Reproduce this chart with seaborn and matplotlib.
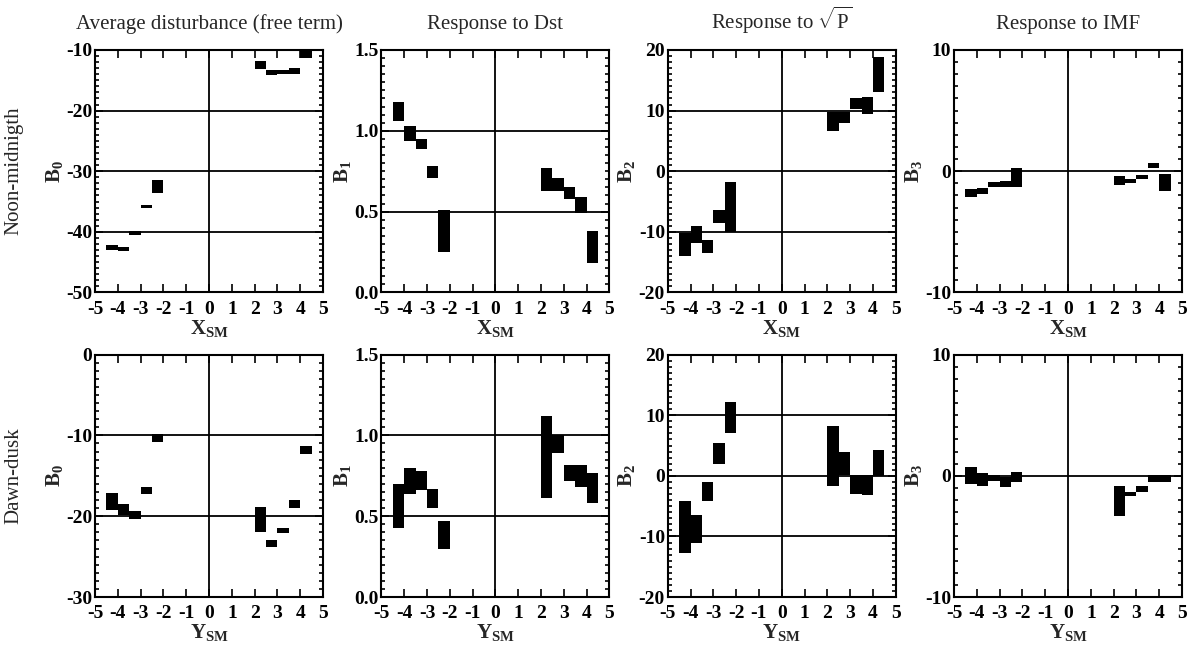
import numpy as np
import pandas as pd
import matplotlib
matplotlib.use("Agg")
import matplotlib.pyplot as plt
from matplotlib.ticker import MultipleLocator
import seaborn as sns

# bin centres along X_SM / Y_SM (each bin is 0.5 wide)
X_BINS = [-4.25, -3.75, -3.25, -2.75, -2.25, 2.25, 2.75, 3.25, 3.75, 4.25]
X_TICKS = [-5, -4, -3, -2, -1, 0, 1, 2, 3, 4, 5]

# noon-midnight row (lower / upper edge of each box)
B0_NM_LO = [-43.0, -43.2, -40.5, -36.1, -33.6, -13.2, -14.1, -14.0, -13.9, -11.4]
B0_NM_HI = [-42.2, -42.5, -39.8, -35.5, -31.4, -11.9, -13.3, -13.3, -12.9, -10.0]
B1_NM_LO = [1.06, 0.94, 0.89, 0.71, 0.25, 0.63, 0.63, 0.58, 0.49, 0.18]
B1_NM_HI = [1.18, 1.03, 0.95, 0.78, 0.51, 0.77, 0.71, 0.65, 0.59, 0.38]
B2_NM_LO = [-14.0, -11.9, -13.5, -8.6, -10.1, 6.6, 8.0, 10.3, 9.5, 13.1]
B2_NM_HI = [-10.2, -9.1, -11.3, -6.4, -1.7, 9.7, 9.7, 12.0, 12.3, 18.9]
B3_NM_LO = [-2.1, -1.9, -1.3, -1.3, -1.3, -1.1, -1.0, -0.6, 0.3, -1.6]
B3_NM_HI = [-1.5, -1.4, -0.9, -0.8, 0.3, -0.4, -0.6, -0.3, 0.7, -0.2]

# dawn-dusk row
B0_DD_LO = [-19.2, -19.8, -20.3, -17.2, -10.8, -21.9, -23.8, -22.1, -19.0, -12.3]
B0_DD_HI = [-17.1, -18.5, -19.4, -16.4, -9.8, -18.9, -22.9, -21.4, -18.0, -11.3]
B1_DD_LO = [0.43, 0.64, 0.66, 0.55, 0.30, 0.61, 0.89, 0.72, 0.68, 0.58]
B1_DD_HI = [0.70, 0.80, 0.78, 0.67, 0.47, 1.12, 1.00, 0.82, 0.82, 0.77]
B2_DD_LO = [-12.8, -11.1, -4.2, 1.9, 7.1, -1.6, 0.2, -3.0, -3.2, 0.0]
B2_DD_HI = [-4.2, -6.4, -1.1, 5.4, 12.2, 8.3, 4.0, 0.2, 0.2, 4.3]
B3_DD_LO = [-0.7, -0.8, -0.4, -0.9, -0.5, -3.3, -1.7, -1.3, -0.5, -0.5]
B3_DD_HI = [0.7, 0.2, 0.1, -0.1, 0.3, -0.8, -1.3, -0.8, 0.1, 0.1]

# y ticks per panel
B0_NM_TICKS = [-50, -40, -30, -20, -10]
B0_DD_TICKS = [-30, -20, -10, 0]
B1_TICKS = [0.0, 0.5, 1.0, 1.5]
B2_TICKS = [-20, -10, 0, 10, 20]
B3_TICKS = [-10, 0, 10]

COL_TITLES = ["Average disturbance (free term)", "Response to Dst",
              r"Response to $\sqrt{\mathrm{P}}$", "Response to IMF"]
ROW_TITLES = ["Noon-midnigth", "Dawn-dusk"]

sns.set_theme(style="ticks")
plt.rcParams["font.family"] = ["Liberation Serif", "DejaVu Serif"]
plt.rcParams["mathtext.fontset"] = "custom"
plt.rcParams["mathtext.rm"] = "Liberation Serif"
plt.rcParams["mathtext.bf"] = "Liberation Serif:bold"
plt.rcParams["mathtext.it"] = "Liberation Serif:italic"

fig, axes = plt.subplots(2, 4, figsize=(11.94, 6.49), dpi=100)
fig.subplots_adjust(left=0.0796, right=0.99, bottom=0.080, top=0.923,
                    wspace=0.256, hspace=0.256)

panels = [
    (B0_NM_LO, B0_NM_HI, B0_NM_TICKS, 1, "{:d}", r"$\mathbf{B_0}$", r"$\mathbf{X_{SM}}$"),
    (B1_NM_LO, B1_NM_HI, B1_TICKS, 0.05, "{:.1f}", r"$\mathbf{B_1}$", r"$\mathbf{X_{SM}}$"),
    (B2_NM_LO, B2_NM_HI, B2_TICKS, 1, "{:d}", r"$\mathbf{B_2}$", r"$\mathbf{X_{SM}}$"),
    (B3_NM_LO, B3_NM_HI, B3_TICKS, 1, "{:d}", r"$\mathbf{B_3}$", r"$\mathbf{X_{SM}}$"),
    (B0_DD_LO, B0_DD_HI, B0_DD_TICKS, 1, "{:d}", r"$\mathbf{B_0}$", r"$\mathbf{Y_{SM}}$"),
    (B1_DD_LO, B1_DD_HI, B1_TICKS, 0.05, "{:.1f}", r"$\mathbf{B_1}$", r"$\mathbf{Y_{SM}}$"),
    (B2_DD_LO, B2_DD_HI, B2_TICKS, 1, "{:d}", r"$\mathbf{B_2}$", r"$\mathbf{Y_{SM}}$"),
    (B3_DD_LO, B3_DD_HI, B3_TICKS, 1, "{:d}", r"$\mathbf{B_3}$", r"$\mathbf{Y_{SM}}$"),
]

for ax, (lo, hi, yticks, minor, fmt, ylab, xlab) in zip(axes.flatten(), panels):
    df = pd.DataFrame({"x": X_BINS, "lo": lo, "hi": hi})
    df["h"] = df["hi"] - df["lo"]
    # floating boxes: bar height = range, bottom = lower edge
    sns.barplot(data=df, x="x", y="h", bottom=df["lo"].values, native_scale=True,
                width=1, errorbar=None, color="black", saturation=1,
                linewidth=0, ax=ax)

    # reference lines at inner major ticks and at x=0
    for t in yticks[1:-1]:
        ax.axhline(t, color="black", lw=1.3, zorder=0.5)
    ax.axvline(0, color="black", lw=1.3, zorder=0.5)

    ax.set_xlim(-5, 5)
    ax.set_ylim(yticks[0], yticks[-1])
    ax.set_xticks(X_TICKS, [str(v) for v in X_TICKS], fontweight="bold")
    ax.set_yticks(yticks, [fmt.format(v) for v in yticks], fontweight="bold")
    ax.yaxis.set_minor_locator(MultipleLocator(minor))
    ax.tick_params(which="both", direction="in", top=True, right=True,
                   colors="black", width=1.2, labelsize=14)
    ax.tick_params(axis="x", pad=6)
    ax.tick_params(axis="y", pad=2)
    ax.tick_params(which="major", length=6)
    ax.tick_params(which="minor", length=3)
    for s in ax.spines.values():
        s.set_visible(True)
        s.set_linewidth(1.5)
        s.set_color("black")
    ax.set_xlabel(xlab, fontsize=15, labelpad=0)
    ax.set_ylabel(ylab, fontsize=15, labelpad=1)

for ax, title in zip(axes[0], COL_TITLES):
    ax.set_title(title, fontsize=15, pad=15)

fig.text(0.012, 1 - 171 / 649, ROW_TITLES[0], rotation=90, ha="center", va="center", fontsize=15)
fig.text(0.012, 1 - 476 / 649, ROW_TITLES[1], rotation=90, ha="center", va="center", fontsize=15)

plt.savefig("out.png", dpi=100)
